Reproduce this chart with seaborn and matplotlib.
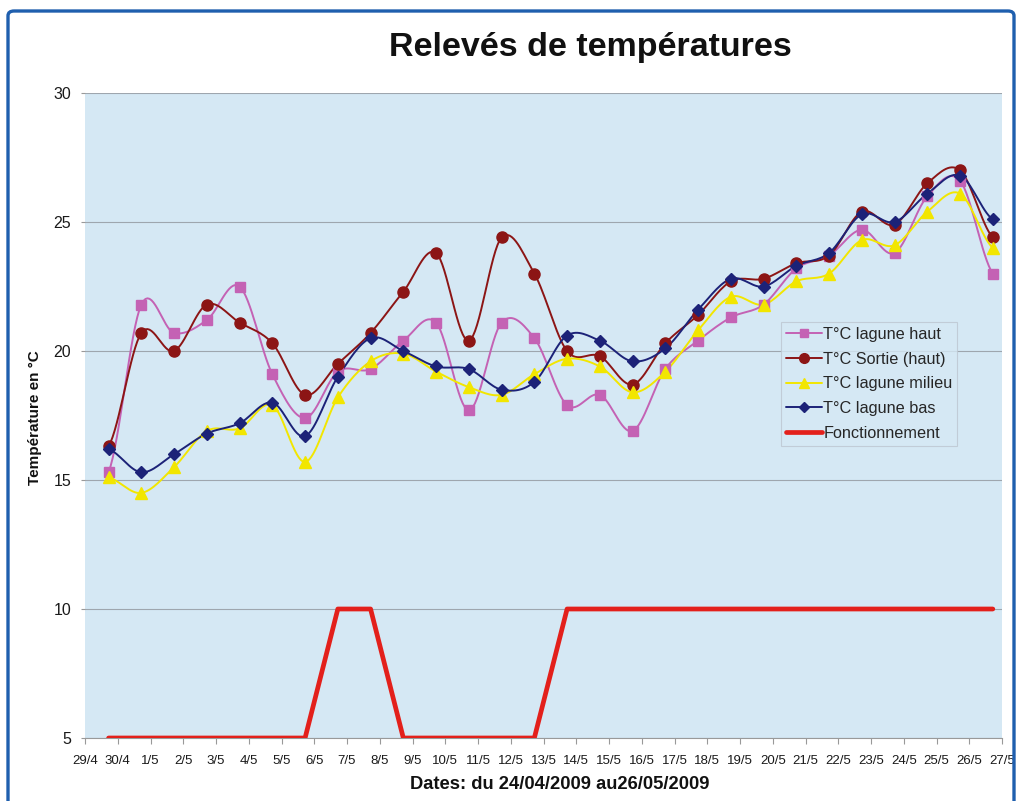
import numpy as np
import matplotlib
matplotlib.use('Agg')
import matplotlib.pyplot as plt
import seaborn as sns
from matplotlib.lines import Line2D
from matplotlib.patches import FancyBboxPatch

dates = ['29/4', '30/4', '1/5', '2/5', '3/5', '4/5', '5/5', '6/5', '7/5', '8/5',
         '9/5', '10/5', '11/5', '12/5', '13/5', '14/5', '15/5', '16/5', '17/5',
         '18/5', '19/5', '20/5', '21/5', '22/5', '23/5', '24/5', '25/5', '26/5', '27/5']

lagune_haut = [15.3, 21.8, 20.7, 21.2, 22.5, 19.1, 17.4, 19.2, 19.3, 20.4,
               21.1, 17.7, 21.1, 20.5, 17.9, 18.3, 16.9, 19.3, 20.4, 21.3,
               21.8, 23.2, 23.7, 24.7, 23.8, 26.0, 26.6, 23.0]
sortie_haut = [16.3, 20.7, 20.0, 21.8, 21.1, 20.3, 18.3, 19.5, 20.7, 22.3,
               23.8, 20.4, 24.4, 23.0, 20.0, 19.8, 18.7, 20.3, 21.4, 22.7,
               22.8, 23.4, 23.7, 25.4, 24.9, 26.5, 27.0, 24.4]
lagune_milieu = [15.1, 14.5, 15.5, 16.9, 17.0, 17.9, 15.7, 18.2, 19.6, 19.9,
                 19.2, 18.6, 18.3, 19.1, 19.7, 19.4, 18.4, 19.2, 20.8, 22.1,
                 21.8, 22.7, 23.0, 24.3, 24.1, 25.4, 26.1, 24.0]
lagune_bas = [16.2, 15.3, 16.0, 16.8, 17.2, 18.0, 16.7, 19.0, 20.5, 20.0,
              19.4, 19.3, 18.5, 18.8, 20.6, 20.4, 19.6, 20.1, 21.6, 22.8,
              22.5, 23.3, 23.8, 25.3, 25.0, 26.1, 26.8, 25.1]
fonctionnement = [5, 5, 5, 5, 5, 5, 5, 10, 10, 5,
                  5, 5, 5, 5, 10, 10, 10, 10, 10, 10,
                  10, 10, 10, 10, 10, 10, 10, 10]

# position de la mesure dans la journée
x = np.arange(len(lagune_haut)) + 0.72


def lisser(xp, yp, n=16):
    # courbe lissée type Excel (Catmull-Rom)
    xp = np.asarray(xp, float)
    yp = np.asarray(yp, float)
    px = np.concatenate([[2 * xp[0] - xp[1]], xp, [2 * xp[-1] - xp[-2]]])
    py = np.concatenate([[yp[0]], yp, [yp[-1]]])
    xs, ys = [], []
    t = np.linspace(0, 1, n, endpoint=False)
    for i in range(1, len(px) - 2):
        mx = (px[i + 1] - px[i - 1]) / 2, (px[i + 2] - px[i]) / 2
        my = (py[i + 1] - py[i - 1]) / 2, (py[i + 2] - py[i]) / 2
        h00 = 2 * t**3 - 3 * t**2 + 1
        h10 = t**3 - 2 * t**2 + t
        h01 = -2 * t**3 + 3 * t**2
        h11 = t**3 - t**2
        xs.append(h00 * px[i] + h10 * mx[0] + h01 * px[i + 1] + h11 * mx[1])
        ys.append(h00 * py[i] + h10 * my[0] + h01 * py[i + 1] + h11 * my[1])
    xs.append([xp[-1]])
    ys.append([yp[-1]])
    return np.concatenate(xs), np.concatenate(ys)


sns.set_theme(style='white')
plt.rcParams['font.family'] = ['Liberation Sans', 'DejaVu Sans']

fig = plt.figure(figsize=(10.2, 8.01), dpi=100)
ax = fig.add_axes([85 / 1020, 63 / 801, 917 / 1020, 645 / 801])
ax.set_facecolor('#d5e8f4')

series = [
    ('T°C lagune haut', lagune_haut, '#c462b4', 's', 7),
    ('T°C Sortie (haut)', sortie_haut, '#8c1515', 'o', 8),
    ('T°C lagune milieu', lagune_milieu, '#f2e600', '^', 8),
    ('T°C lagune bas', lagune_bas, '#1c2278', 'D', 6),
]

handles = []
for nom, vals, coul, mk, ms in series:
    xs, ys = lisser(x, vals)
    sns.lineplot(x=xs, y=ys, sort=False, color=coul, linewidth=1.4, ax=ax, zorder=3)
    ax.plot(x, vals, linestyle='none', marker=mk, markersize=ms,
            color=coul, markeredgecolor=coul, zorder=4)
    handles.append(Line2D([], [], color=coul, lw=1.4, marker=mk, markersize=ms - 1))

sns.lineplot(x=x, y=fonctionnement, color='#e3201b', linewidth=3.4, ax=ax, zorder=5)
handles.append(Line2D([], [], color='#e3201b', lw=3.4))

ax.set_xlim(0, len(dates) - 1)
ax.set_ylim(5, 30)
ax.set_xticks(np.arange(len(dates)))
ax.set_xticklabels(dates, fontsize=9.5, color='#1a1a1a')
ax.set_yticks([5, 10, 15, 20, 25, 30])
ax.set_yticklabels(['5', '10', '15', '20', '25', '30'], fontsize=11.5, color='#1a1a1a')
ax.tick_params(axis='x', length=4, width=0.8, color='#999999', pad=8, direction='out', bottom=True)
ax.tick_params(axis='y', length=3, width=0.8, color='#999999', pad=7, direction='out', left=True)

ax.grid(axis='y', color='#9ea6ae', linewidth=0.8)
ax.grid(axis='x', visible=False)
for side in ['top', 'right', 'left']:
    ax.spines[side].set_visible(False)
ax.spines['bottom'].set_color('#999999')
ax.spines['bottom'].set_linewidth(0.8)

ax.set_xlabel('')
ax.set_ylabel('')
fig.text(0.579, 0.941, 'Relevés de températures', fontsize=24.5, fontweight='bold',
         ha='center', va='center', color='#111111')
fig.text(0.034, 0.478, 'Température en °C', fontsize=11, fontweight='bold',
         rotation=90, ha='center', va='center', color='#111111')
fig.text(0.549, 0.021, 'Dates: du 24/04/2009 au26/05/2009', fontsize=13.2,
         fontweight='bold', ha='center', va='center', color='#111111')

leg = ax.legend(handles, [s[0] for s in series] + ['Fonctionnement'],
                loc='upper left', bbox_to_anchor=(781 / 1020, 1 - 322 / 801),
                bbox_transform=fig.transFigure, fontsize=11.7, frameon=True,
                handlelength=2.2, handletextpad=0.1, labelspacing=0.6,
                borderpad=0.3, borderaxespad=0, fancybox=False)
leg.get_frame().set_facecolor('#d5e8f4')
leg.get_frame().set_edgecolor('#bcc6d0')
leg.get_frame().set_linewidth(0.8)

cadre = FancyBboxPatch((8 / 1020, -0.05), 1006 / 1020, 1 - 11 / 801 + 0.05,
                       boxstyle='round,pad=0,rounding_size=0.006',
                       transform=fig.transFigure, fill=False,
                       edgecolor='#1f5fae', linewidth=2.4, clip_on=False)
fig.patches.append(cadre)

fig.savefig('out.png', dpi=100)
